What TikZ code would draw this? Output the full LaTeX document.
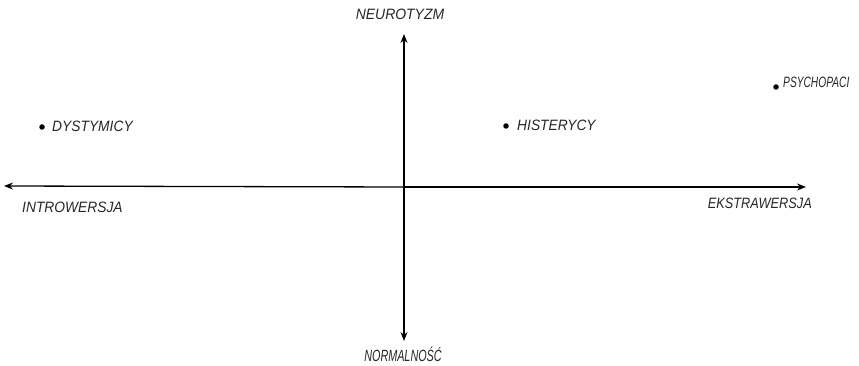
\documentclass[tikz,border=0pt]{standalone}
\usepackage{fontspec}
\usepackage{graphicx}
\setmainfont{Liberation Sans}
\usetikzlibrary{arrows.meta}
\newcommand{\hsq}[2]{\scalebox{#1}[1]{#2}}
\begin{document}
\begin{tikzpicture}[x=1pt,y=-1pt,
  axis/.style={line width=1.3pt,-{Stealth[length=9pt,width=7pt]}},
  lab/.style={font=\fontsize{15}{17}\selectfont\itshape,inner sep=0pt,text=black!85},
  pt/.style={circle,fill=black,inner sep=0pt,minimum size=5.5pt}]
\useasboundingbox (0,0) rectangle (859,366);
\coordinate (o) at (404,187);
\coordinate (top) at (404,34);
\coordinate (bot) at (404,341);
\coordinate (left) at (4,186);
\coordinate (right) at (806,187);
\draw[axis] (o) -- (top);
\draw[axis] (o) -- (bot);
\draw[axis] (o) -- (left);
\draw[axis] (o) -- (right);
\node[lab,anchor=base] (neu) at (400,20) {\hsq{0.93}{NEUROTYZM}};
\node[lab,anchor=base] (nor) at (403,361) {\scalebox{0.72}[1.08]{NORMALNOŚĆ}};
\node[lab,anchor=west] (intro) at (22,207) {\hsq{0.92}{INTROWERSJA}};
\node[lab,anchor=east] (ekstra) at (812,203) {\hsq{0.85}{EKSTRAWERSJA}};
\node[pt] (d1) at (42,127) {};
\node[lab,anchor=west] (dys) at (52,126) {\hsq{0.92}{DYSTYMICY}};
\node[pt] (d2) at (506,126) {};
\node[lab,anchor=west] (his) at (517,125) {\hsq{0.92}{HISTERYCY}};
\node[pt] (d3) at (776,87) {};
\node[lab,anchor=west] (psy) at (783,82) {\scalebox{0.68}[1.0]{PSYCHOPACI}};
\end{tikzpicture}
\end{document}
